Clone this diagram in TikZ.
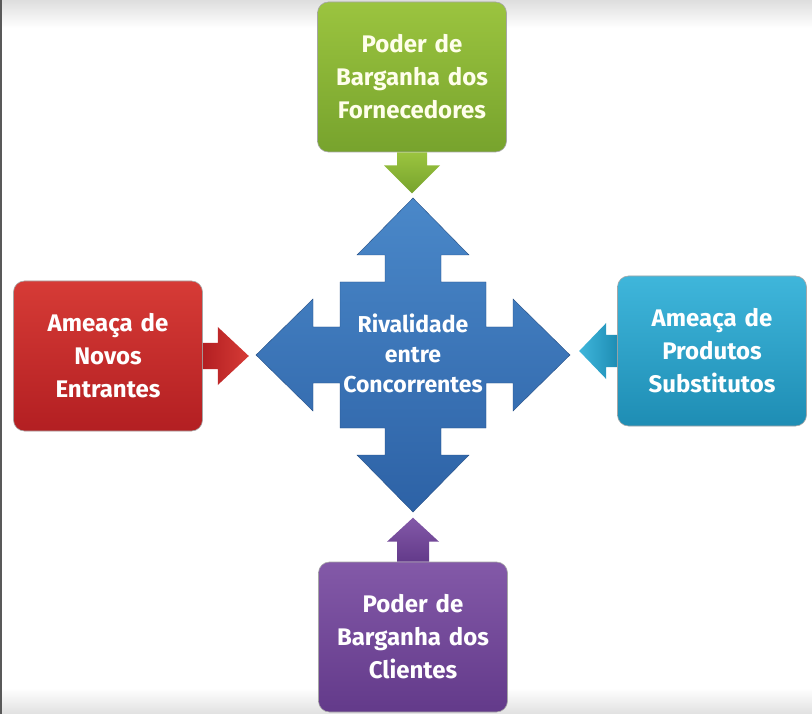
\documentclass[tikz,border=0pt]{standalone}
\usepackage{fontspec}
\setmainfont{Fira Sans}
\usepackage{tikz}
\usepackage{xcolor}

\definecolor{forntop}{HTML}{9BC43F}
\definecolor{fornbot}{HTML}{77A32D}
\definecolor{novtop}{HTML}{D63B36}
\definecolor{novbot}{HTML}{B31F22}
\definecolor{subtop}{HTML}{3FB6DB}
\definecolor{subbot}{HTML}{1E8DB4}
\definecolor{clitop}{HTML}{8359A8}
\definecolor{clibot}{HTML}{633A8A}
\definecolor{rivtop}{HTML}{4A88C9}
\definecolor{rivbot}{HTML}{2D62A6}

\begin{document}
\begin{tikzpicture}[x=1pt, y=-1pt,
  forcebox/.style={rounded corners=11pt, minimum width=189pt, minimum height=150pt,
    text width=182pt, align=center, text=white, draw=black!35, line width=0.6pt,
    font=\fontsize{24}{33}\selectfont\bfseries},
  rivtext/.style={text=white, align=center, font=\fontsize{23}{30}\selectfont\bfseries}]
  \useasboundingbox (0,0) rectangle (812,714);
  % Background, grey at top and bottom
  \fill[white] (0,0) rectangle (812,714);
  \shade[top color=black!13, bottom color=white] (0,0) rectangle (812,28);
  \shade[top color=white, bottom color=black!12] (0,688) rectangle (812,714);
  \draw[black!65, line width=1.5pt] (0.75,0) -- (0.75,714);

  % Central cross
  \coordinate (rc) at (413,355);
  \shade[top color=rivtop, bottom color=rivbot, draw=rivbot!80!black, line width=0.4pt]
    ([shift={(0,-157)}]rc) -- ++(56,57) -- ++(-28,0) -- ++(0,27) -- ++(45,0)
    -- ++(0,45) -- ++(27,0) -- ++(0,-28) -- ++(57,56) -- ++(-57,56) -- ++(0,-28)
    -- ++(-27,0) -- ++(0,45) -- ++(-45,0) -- ++(0,27) -- ++(28,0) -- ++(-56,57)
    -- ++(-56,-57) -- ++(28,0) -- ++(0,-27) -- ++(-45,0) -- ++(0,-45) -- ++(-27,0)
    -- ++(0,28) -- ++(-57,-56) -- ++(57,-56) -- ++(0,28) -- ++(27,0) -- ++(0,-45)
    -- ++(45,0) -- ++(0,-27) -- ++(-28,0) -- cycle;
  \node[rivtext] (rival) at ([yshift=2]rc) {Rivalidade\\entre\\Concorrentes};

  % The four forces
  \node[forcebox, top color=forntop, bottom color=fornbot, text=white!92!yellow] (forn) at (412,77)
    {Poder de\\Barganha dos\\Fornecedores};
  \node[forcebox, top color=novtop, bottom color=novbot] (novos) at (108,356)
    {Ameaça de\\Novos\\Entrantes};
  \node[forcebox, top color=subtop, bottom color=subbot] (subst) at (712,351)
    {Ameaça de\\Produtos\\Substitutos};
  \node[forcebox, top color=clitop, bottom color=clibot] (cli) at (413,637)
    {Poder de\\Barganha dos\\Clientes};

  % Block arrows towards the cross
  \shade[top color=forntop, bottom color=fornbot]
    ([shift={(-15,0)}]forn.south) -- ++(0,13) -- ++(-13,0) -- ++(28,28)
    -- ++(28,-28) -- ++(-13,0) -- ++(0,-13) -- cycle;
  \shade[left color=novbot, right color=novtop]
    ([shift={(0,-13)}]novos.east) -- ++(15,0) -- ++(0,-16) -- ++(31,29)
    -- ++(-31,29) -- ++(0,-16) -- ++(-15,0) -- cycle;
  \shade[left color=subtop, right color=subbot]
    ([shift={(0,-16)}]subst.west) -- ++(-11,0) -- ++(0,-12) -- ++(-27,28)
    -- ++(27,28) -- ++(0,-12) -- ++(11,0) -- cycle;
  \shade[top color=clitop, bottom color=clibot]
    ([shift={(-16,0)}]cli.north) -- ++(0,-20) -- ++(-10,0) -- ++(26,-24)
    -- ++(26,24) -- ++(-10,0) -- ++(0,20) -- cycle;
\end{tikzpicture}
\end{document}
